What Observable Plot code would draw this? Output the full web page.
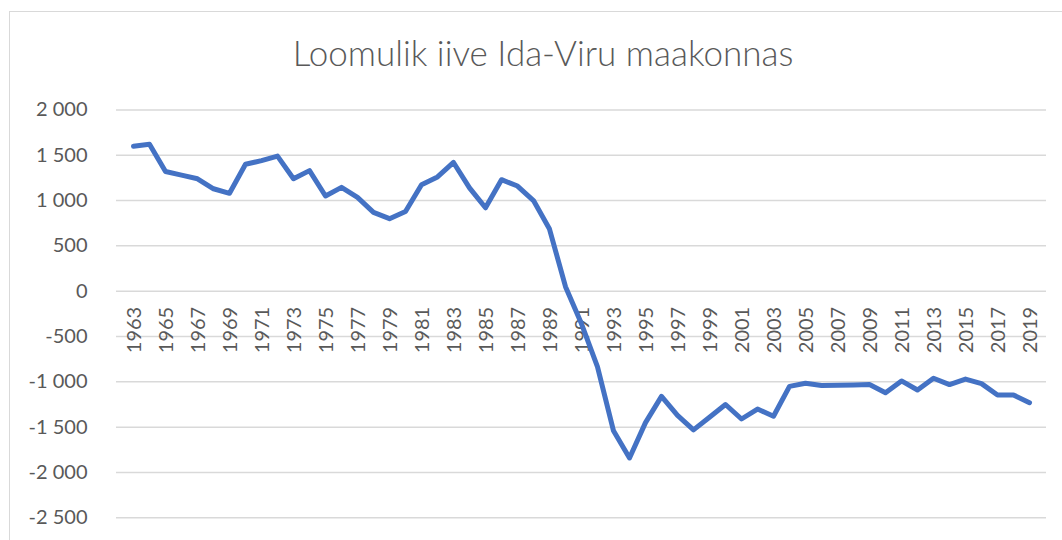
<!DOCTYPE html>
<html><head><meta charset="utf-8">
<script src="https://cdn.jsdelivr.net/npm/d3@7"></script>
<script src="https://cdn.jsdelivr.net/npm/@observablehq/plot@0.6"></script>
<style>
html,body{margin:0;padding:0;background:#fff}
body{width:1062px;height:540px;overflow:hidden;position:relative;font-family:Lato,"Open Sans",sans-serif}
#border{position:absolute;left:9px;top:11px;width:2000px;height:2000px;border-left:1.5px solid #d9d9d9;border-top:1.5px solid #d9d9d9;pointer-events:none}
#title{position:relative;height:80px;width:1062px}
#title span{position:absolute;left:543px;top:35px;transform:translateX(-50%);white-space:nowrap;font-family:Lato,sans-serif;font-weight:300;font-size:35px;line-height:35px;color:#595959}
#chart svg{display:block}
</style>
</head><body>
<div id="border"></div>
<div id="title"><span>Loomulik iive Ida-Viru maakonnas</span></div>
<div id="chart"></div>
<script>
const years = [1963,1964,1965,1966,1967,1968,1969,1970,1971,1972,1973,1974,1975,1976,1977,1978,1979,1980,1981,1982,1983,1984,1985,1986,1987,1988,1989,1990,1991,1992,1993,1994,1995,1996,1997,1998,1999,2000,2001,2002,2003,2004,2005,2006,2007,2008,2009,2010,2011,2012,2013,2014,2015,2016,2017,2018,2019];
const values = [1600,1620,1320,1280,1240,1130,1080,1400,1440,1490,1240,1330,1050,1145,1035,870,800,880,1175,1260,1420,1140,920,1230,1160,1000,685,50,-360,-835,-1540,-1840,-1450,-1160,-1370,-1530,-1390,-1250,-1410,-1300,-1380,-1050,-1015,-1040,-1037,-1035,-1030,-1120,-990,-1090,-960,-1030,-970,-1020,-1145,-1145,-1230];
const yTicks = [-2500,-2000,-1500,-1000,-500,0,500,1000,1500,2000];
const xLabels = [1963,1965,1967,1969,1971,1973,1975,1977,1979,1981,1983,1985,1987,1989,1991,1993,1995,1997,1999,2001,2003,2005,2007,2009,2011,2013,2015,2017,2019];

const data = years.map((year, i) => ({year, value: values[i]}));
const fmt = n => (n < 0 ? "-" : "") + d3.format(",")(Math.abs(n)).replace(/,/g, " ");

const chart = Plot.plot({
  width: 1062,
  height: 460,
  marginTop: 29.4,
  marginBottom: 22.7,
  marginLeft: 116,
  marginRight: 16,
  x: {type: "point", domain: years, padding: 0.5, axis: null},
  y: {domain: [-2500, 2000], axis: null},
  style: {fontFamily: "Lato, sans-serif", fontSize: "20px", color: "#595959", background: "transparent"},
  marks: [
    Plot.ruleY(yTicks, {stroke: "#d9d9d9", strokeWidth: 1.5}),
    Plot.axisY(yTicks, {tickSize: 0, tickPadding: 29, tickFormat: fmt, fontSize: 20, fill: "#595959", label: null}),
    Plot.text(xLabels, {x: d => d, y: () => 0, text: d => String(d), rotate: -90, textAnchor: "start", lineAnchor: "middle", dy: 62, dx: 1, fontSize: 20, fill: "#595959"}),
    Plot.line(data, {x: "year", y: "value", stroke: "#4472C4", strokeWidth: 5, strokeLinejoin: "round", strokeLinecap: "round"})
  ]
});
document.getElementById("chart").appendChild(chart);
</script>
</body></html>
